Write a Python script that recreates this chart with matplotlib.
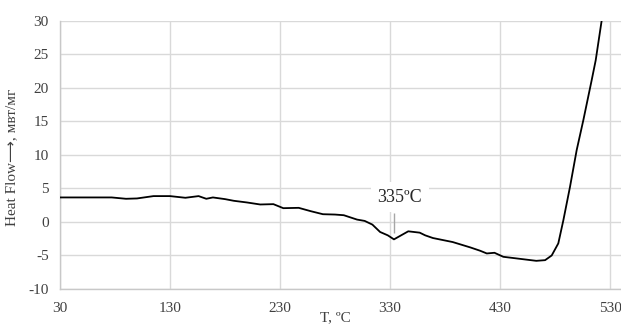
import matplotlib
matplotlib.use("Agg")
import matplotlib.pyplot as plt

# DSC curve
temp = [30, 50, 77, 90, 100, 115, 130, 144, 156, 163, 169, 180, 188, 200, 212, 224,
        233, 247, 258, 269, 280, 288, 300, 307, 314, 321, 328, 333.6, 339, 346.6,
        357, 362, 369, 378, 387, 395, 403, 412, 418, 425, 433, 448, 463, 471, 477,
        483, 487.6, 493.6, 499.7, 505.8, 513.3, 517, 522.4]
heat_flow = [3.65, 3.65, 3.65, 3.45, 3.5, 3.85, 3.85, 3.6, 3.85, 3.45, 3.65, 3.4, 3.15,
             2.9, 2.6, 2.65, 2.05, 2.1, 1.6, 1.15, 1.1, 1.0, 0.35, 0.15, -0.4, -1.5,
             -2.0, -2.6, -2.1, -1.4, -1.6, -2.0, -2.4, -2.7, -3.0, -3.4, -3.8, -4.3,
             -4.7, -4.6, -5.2, -5.5, -5.8, -5.7, -5.0, -3.2, 0.25, 5.2, 10.7, 15.2,
             21.1, 24.1, 30.0]

x_ticks = [30, 130, 230, 330, 430, 530]
y_ticks = [-10, -5, 0, 5, 10, 15, 20, 25, 30]
peak_label = "335ºC"
peak_t = 333.6

plt.rcParams['font.family'] = ['Liberation Serif', 'DejaVu Sans']
plt.rcParams['axes.unicode_minus'] = False

fig = plt.figure(figsize=(6.21, 3.27), dpi=100)
ax = fig.add_axes([60 / 621, 1 - 289 / 327, 561 / 621, 268.3 / 327])

ax.plot(temp, heat_flow, color='black', lw=1.3, solid_capstyle='round', zorder=3)

ax.set_xlim(30, 540)
ax.set_ylim(-10, 30)
ax.set_xticks(x_ticks)
ax.set_yticks(y_ticks)
ax.grid(True, color='#d9d9d9', lw=1.0)
ax.set_axisbelow(True)
for side in ['top', 'right']:
    ax.spines[side].set_visible(False)
for side in ['left', 'bottom']:
    ax.spines[side].set_color('#c8c8c8')
    ax.spines[side].set_linewidth(1.0)
ax.tick_params(length=0, labelsize=11, colors='#404040')
ax.tick_params(axis='x', pad=9)
ax.tick_params(axis='y', pad=8)

ax.set_xlabel("T, ºC", fontsize=11, color='#404040')
ax.xaxis.set_label_coords(0.491, -0.082)
ax.set_ylabel("Heat Flow⟶, мвт/мг", fontsize=11, color='#404040')
ax.yaxis.set_label_coords(-0.075, 0.49)

# peak callout
ax.vlines(peak_t, -1.7, 1.4, color='#a6a6a6', lw=1.0, zorder=2)
ax.text(339, 3.7, peak_label, ha='center', va='center', fontsize=13, color='#262626',
        bbox=dict(facecolor='white', edgecolor='none', pad=5), zorder=4)

fig.savefig("out.png", dpi=100)
